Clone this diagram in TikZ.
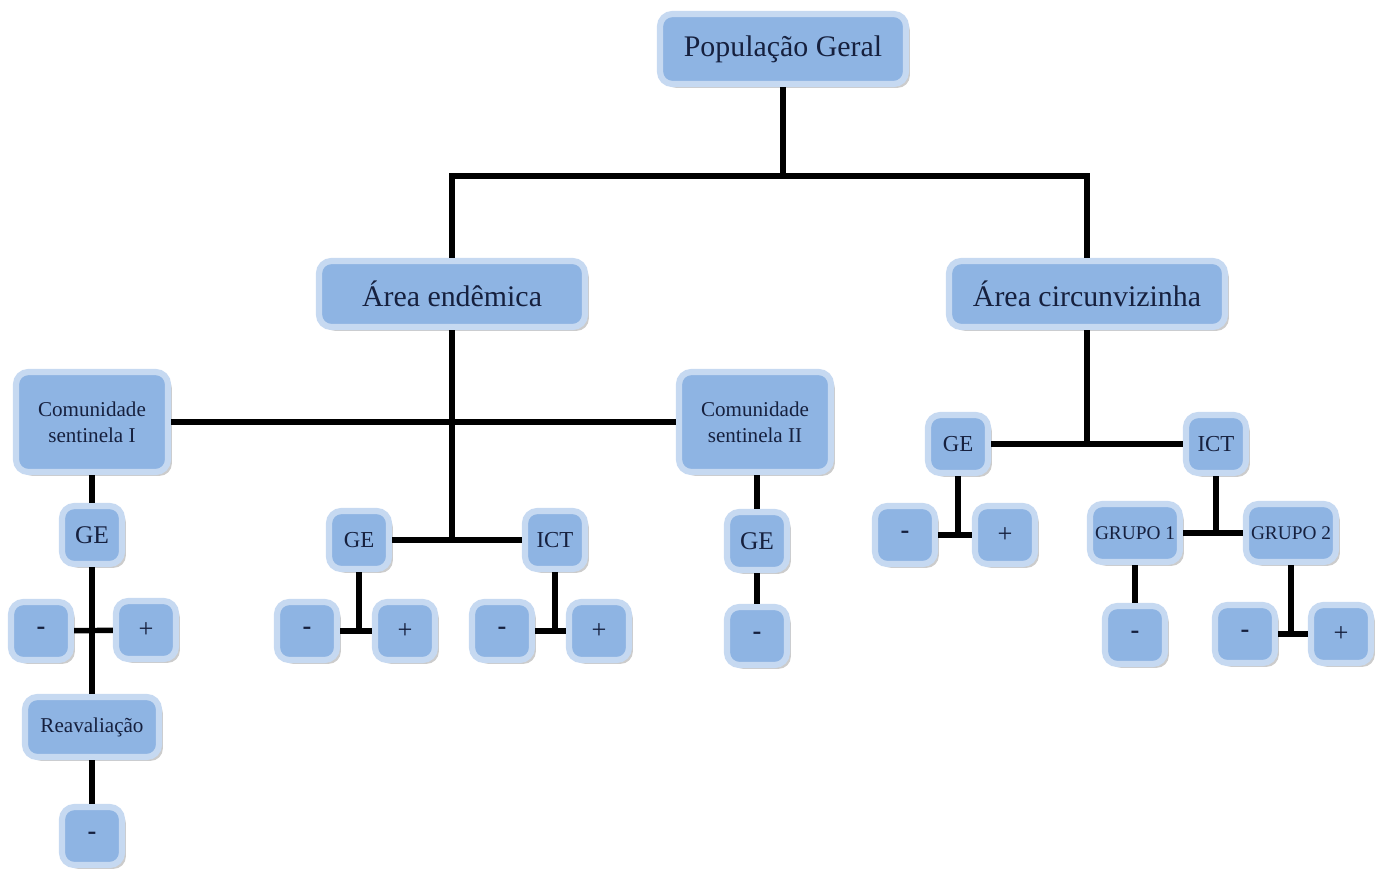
\documentclass[tikz,border=0pt]{standalone}
\usepackage{fontspec}
\setmainfont{Liberation Serif}
\usepackage{xcolor}
\usepackage{tikz}
\usetikzlibrary{shadows}
\definecolor{boxfill}{RGB}{142,180,227}
\definecolor{boxrim}{RGB}{198,217,241}
\definecolor{boxtext}{RGB}{22,32,62}
\tikzset{
    box/.style = {align=center, inner sep=0pt, text centered, rounded corners=7pt, fill=boxfill, draw=boxrim, line width=3.5pt, text=boxtext,
        drop shadow={shadow xshift=2.2pt, shadow yshift=-2.2pt, opacity=0.5, fill=gray!80}},
    top_box/.style = {box, minimum width=49.2mm, minimum height=14mm, font=\fontsize{17}{20}\selectfont},
    area_box/.style = {box, minimum height=13.2mm, font=\fontsize{17}{20}\selectfont},
    com_box/.style = {box, minimum width=30.4mm, minimum height=20mm, font=\fontsize{12}{15}\selectfont},
    small_box/.style = {box, minimum width=12mm, minimum height=11.6mm, font=\fontsize{13}{15}\selectfont},
    sign_box/.style = {small_box, font=\fontsize{15}{15}\selectfont\bfseries},
    grupo_box/.style = {box, minimum width=18mm, minimum height=11.6mm, font=\fontsize{11}{13}\selectfont},
    reav_box/.style = {box, minimum width=26.8mm, minimum height=12mm, font=\fontsize{12}{15}\selectfont}
}

\begin{document}
\begin{tikzpicture}
    [x=0.2mm, y=-0.2mm,
    link/.style={draw=black, line width=3.1pt}]

    \useasboundingbox (0,0) rectangle (1389,870);

    % top levels
    \node [top_box] (pop) at (783,49) {População Geral};
    \node [area_box, minimum width=53.2mm] (endem) at (452,294) {Área endêmica};
    \node [area_box, minimum width=55.2mm] (circ) at (1087,294) {Área circunvizinha};
    \coordinate (split) at (783,176);

    % area endemica
    \node [com_box] (com1) at (92,422) {Comunidade\\sentinela I};
    \node [com_box] (com2) at (755,422) {Comunidade\\sentinela II};
    \node [small_box] (ge_mid) at (359,540) {GE};
    \node [small_box] (ict_mid) at (555,540) {ICT};
    \node [sign_box] (ge_mid_neg) at (307,631) {-};
    \node [sign_box, font=\fontsize{15}{15}\selectfont] (ge_mid_pos) at (405,631) {+};
    \node [sign_box] (ict_mid_neg) at (502,631) {-};
    \node [sign_box, font=\fontsize{15}{15}\selectfont] (ict_mid_pos) at (599,631) {+};

    % comunidade sentinela I
    \node [small_box, font=\fontsize{14.5}{16}\selectfont] (ge_c1) at (92,535) {GE};
    \node [sign_box] (ge_c1_neg) at (41,631) {-};
    \node [sign_box, font=\fontsize{15}{15}\selectfont] (ge_c1_pos) at (146,630) {+};
    \node [reav_box] (reav) at (92,727) {Reavaliação};
    \node [sign_box] (reav_neg) at (92,836) {-};

    % comunidade sentinela II
    \node [small_box, font=\fontsize{14.5}{16}\selectfont] (ge_c2) at (757,541) {GE};
    \node [sign_box] (ge_c2_neg) at (757,636) {-};

    % area circunvizinha
    \node [small_box] (ge_ci) at (958,444) {GE};
    \node [small_box] (ict_ci) at (1216,444) {ICT};
    \node [sign_box] (ge_ci_neg) at (905,535) {-};
    \node [sign_box, font=\fontsize{15}{15}\selectfont] (ge_ci_pos) at (1005,535) {+};
    \node [grupo_box] (grupo1) at (1135,533) {GRUPO 1};
    \node [grupo_box] (grupo2) at (1291,533) {GRUPO 2};
    \node [sign_box] (g1_neg) at (1135,635) {-};
    \node [sign_box] (g2_neg) at (1245,634) {-};
    \node [sign_box, font=\fontsize{15}{15}\selectfont] (g2_pos) at (1341,634) {+};

    % connectors
    \draw [link] (pop) -- (split);
    \draw [link] (endem.north) |- (split) -| (circ.north);

    \draw [link] (com1) -- (com2);
    \draw [link] (endem.south) -- (endem.south |- ge_mid);
    \draw [link] (ge_mid) -- (ict_mid);
    \draw [link] (ge_mid.south) -- (ge_mid.south |- ge_mid_neg);
    \draw [link] (ge_mid_neg) -- (ge_mid_pos);
    \draw [link] (ict_mid.south) -- (ict_mid.south |- ict_mid_neg);
    \draw [link] (ict_mid_neg) -- (ict_mid_pos);

    \draw [link] (com1) -- (ge_c1);
    \draw [link] (ge_c1) -- (reav);
    \draw [link] (ge_c1_neg) -- (ge_c1_pos);
    \draw [link] (reav) -- (reav_neg);

    \draw [link] (com2.south -| ge_c2) -- (ge_c2);
    \draw [link] (ge_c2) -- (ge_c2_neg);

    \draw [link] (circ.south) -- (circ.south |- ge_ci);
    \draw [link] (ge_ci) -- (ict_ci);
    \draw [link] (ge_ci.south) -- (ge_ci.south |- ge_ci_neg);
    \draw [link] (ge_ci_neg) -- (ge_ci_pos);
    \draw [link] (ict_ci.south) -- (ict_ci.south |- grupo1);
    \draw [link] (grupo1) -- (grupo2);
    \draw [link] (grupo1) -- (g1_neg);
    \draw [link] (grupo2.south) -- (grupo2.south |- g2_neg);
    \draw [link] (g2_neg) -- (g2_pos);
\end{tikzpicture}
\end{document}
